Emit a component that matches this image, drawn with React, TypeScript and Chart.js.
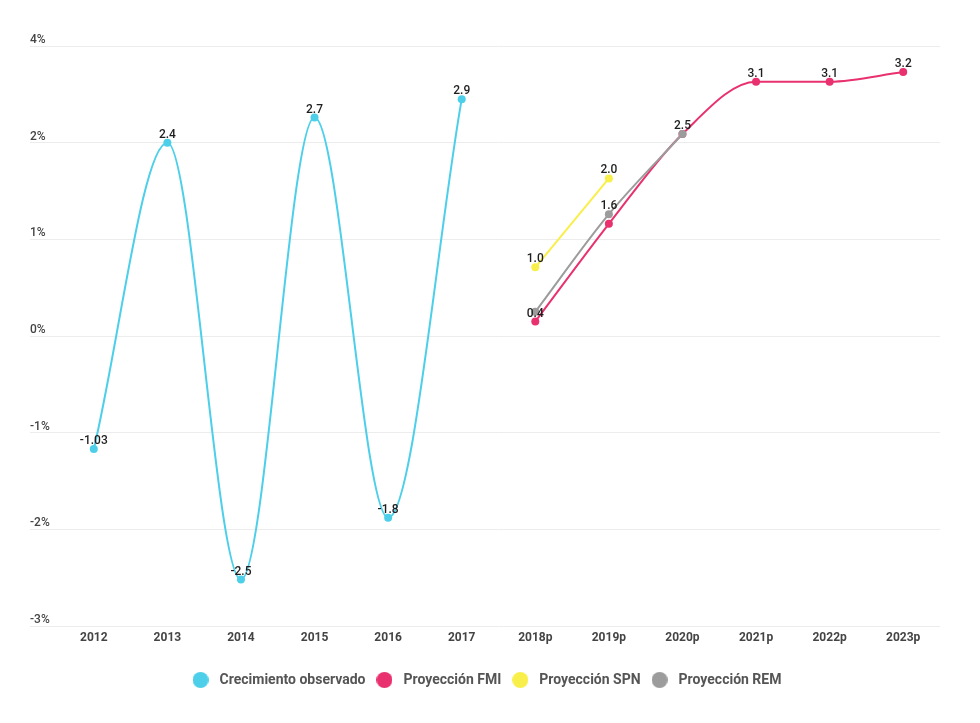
import React, { useEffect, useRef } from "react";
import { Chart, registerables } from "chart.js";

Chart.register(...registerables);

const categories = ["2012", "2013", "2014", "2015", "2016", "2017", "2018p", "2019p", "2020p", "2021p", "2022p", "2023p"];

const observado = [-1.17, 2.0, -2.52, 2.26, -1.88, 2.45, null, null, null, null, null, null];
const observadoLabels = ["-1.03", "2.4", "-2.5", "2.7", "-1.8", "2.9", null, null, null, null, null, null];

const fmi = [null, null, null, null, null, null, 0.15, 1.16, 2.09, 2.63, 2.63, 2.73];
const fmiLabels = [null, null, null, null, null, null, "0.4", null, "2.5", "3.1", "3.1", "3.2"];

const spn = [null, null, null, null, null, null, 0.71, 1.63, null, null, null, null];
const spnLabels = [null, null, null, null, null, null, "1.0", "2.0", null, null, null, null];

const rem = [null, null, null, null, null, null, 0.25, 1.26, 2.09, null, null, null];
const remLabels = [null, null, null, null, null, null, null, "1.6", null, null, null, null];

const yTickLabels = ["-3%", "-2%", "-1%", "0%", "1%", "2%", "4%"];

const seriesNames = ["Crecimiento observado", "Proyección FMI", "Proyección SPN", "Proyección REM"];
const seriesColors = ["#4dcfea", "#e8316e", "#f9ef4a", "#9c9c9c"];
const pointLabelSets = [observadoLabels, fmiLabels, spnLabels, remLabels];

function makeDot(color: string): HTMLCanvasElement {
  const c = document.createElement("canvas");
  c.width = 16;
  c.height = 16;
  const g = c.getContext("2d")!;
  g.fillStyle = color;
  g.beginPath();
  g.arc(8, 8, 8, 0, Math.PI * 2);
  g.fill();
  return c;
}

const pointLabelPlugin = {
  id: "pointLabels",
  afterDatasetsDraw(chart: any) {
    const ctx = chart.ctx;
    ctx.save();
    ctx.font = "500 12px Roboto";
    ctx.fillStyle = "#1e1e1e";
    ctx.textAlign = "center";
    ctx.textBaseline = "middle";
    chart.data.datasets.forEach((ds: any, di: number) => {
      const labels = pointLabelSets[di];
      const meta = chart.getDatasetMeta(di);
      meta.data.forEach((pt: any, i: number) => {
        const t = labels[i];
        if (t == null || ds.data[i] == null) return;
        ctx.fillText(t, pt.x, pt.y - 8);
      });
    });
    ctx.restore();
  },
};

export default function App() {
  const ref = useRef<HTMLCanvasElement>(null);

  useEffect(() => {
    const values = [observado, fmi, spn, rem];
    const orders = [1, 1, 1, 0];
    const chart = new Chart(ref.current!, {
      type: "line",
      data: {
        labels: categories,
        datasets: values.map((d, i) => ({
          label: seriesNames[i],
          data: d,
          borderColor: seriesColors[i],
          backgroundColor: seriesColors[i],
          pointBackgroundColor: seriesColors[i],
          pointBorderWidth: 0,
          pointRadius: 4,
          borderWidth: 2,
          cubicInterpolationMode: "monotone" as const,
          spanGaps: false,
          order: orders[i],
        })),
      },
      options: {
        responsive: false,
        animation: false,
        layout: { padding: { left: 30, right: 40, top: 46, bottom: 26 } },
        scales: {
          x: {
            offset: true,
            grid: { display: false, drawTicks: false },
            border: { display: false },
            ticks: {
              padding: 5,
              color: "#444",
              font: { family: "Roboto", size: 12, weight: "bold" },
              maxRotation: 0,
            },
            afterFit: (scale: any) => {
              scale.height = 40;
            },
          },
          y: {
            min: -3,
            max: 3,
            border: { display: false },
            grid: { color: "#ececec", lineWidth: 1, drawTicks: true, tickLength: 27 },
            ticks: {
              stepSize: 1,
              crossAlign: "far",
              padding: 0,
              labelOffset: -6,
              color: "#444",
              font: { family: "Roboto", size: 12, weight: "500" },
              callback: (v: any) => yTickLabels[Math.round(Number(v)) + 3],
            },
            afterFit: (scale: any) => {
              scale.width = 27;
            },
          },
        },
        plugins: {
          tooltip: { enabled: false },
          legend: {
            position: "bottom",
            labels: {
              usePointStyle: true,
              pointStyleWidth: 24,
              boxHeight: 14,
              padding: 7,
              color: "#555",
              font: { family: "Roboto", size: 14, weight: "bold" },
              generateLabels: (c: any) =>
                c.data.datasets.map((ds: any, i: number) => ({
                  text: ds.label,
                  fillStyle: seriesColors[i],
                  strokeStyle: seriesColors[i],
                  lineWidth: 0,
                  pointStyle: makeDot(seriesColors[i]),
                  hidden: false,
                  datasetIndex: i,
                  fontColor: "#555",
                })),
            },
          },
        },
      },
      plugins: [pointLabelPlugin],
    });
    return () => chart.destroy();
  }, []);

  return (
    <div style={{ position: "absolute", left: 0, top: 0, width: 980, height: 723, background: "#fff" }}>
      <canvas ref={ref} width={980} height={723} style={{ display: "block" }} />
    </div>
  );
}
